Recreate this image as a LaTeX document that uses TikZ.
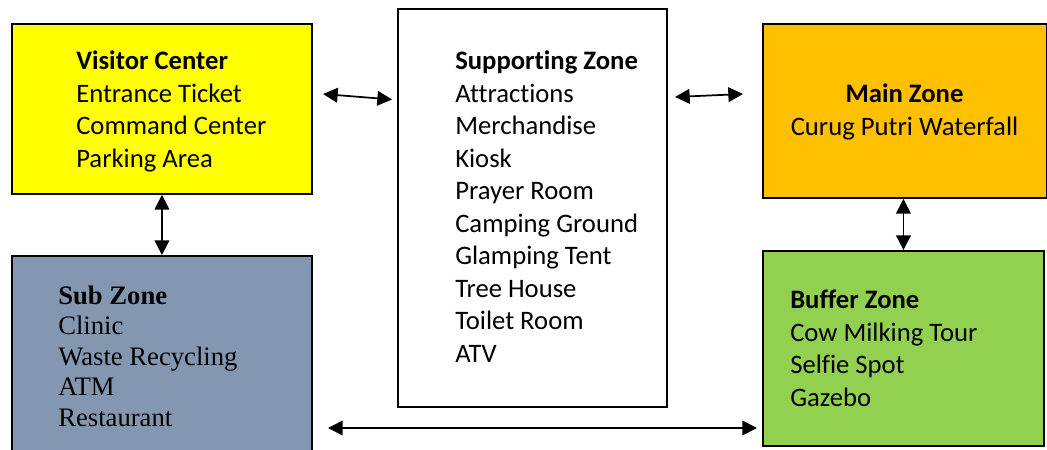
\documentclass[tikz,border=0pt]{standalone}
\usepackage{fontspec}
\setmainfont[Ligatures={NoCommon}]{Carlito}
\newfontfamily\timesfont[Ligatures={NoCommon}]{Liberation Serif}
\usetikzlibrary{arrows.meta}
\definecolor{vcyellow}{HTML}{FFFF00}
\definecolor{subgray}{HTML}{8497B0}
\definecolor{mainorange}{HTML}{FFC000}
\definecolor{bufgreen}{HTML}{92D050}
\begin{document}
\begin{tikzpicture}[x=0.75pt,y=-0.75pt,
  zone/.style={draw=black, line width=1.4pt, rectangle, inner sep=0pt, anchor=north west},
  txt/.style={anchor=base west, inner sep=0pt, font=\fontsize{20}{24}\selectfont},
  ttxt/.style={anchor=base west, inner sep=0pt, font=\timesfont\fontsize{20}{23}\selectfont},
  ctxt/.style={anchor=base, inner sep=0pt, font=\fontsize{20}{24}\selectfont},
  link/.style={line width=1.3pt, {Triangle[length=11pt,width=11pt]}-{Triangle[length=11pt,width=11pt]}}]
\clip (0,0) rectangle (1047,450);
% boxes
\node[zone, fill=vcyellow, minimum width=225pt, minimum height=127.5pt] (vc) at (11,23) {};
\node[zone, fill=subgray, minimum width=225pt, minimum height=165pt] (sub) at (11,255) {};
\node[zone, fill=white, minimum width=201.75pt, minimum height=298.5pt] (sup) at (397,8) {};
\node[zone, fill=mainorange, minimum width=213pt, minimum height=130.5pt] (main) at (762,23) {};
\node[zone, fill=bufgreen, minimum width=210.75pt, minimum height=146.25pt] (buf) at (762,250) {};
% texts
\node[txt] (vc-t) at (76,69.5) {\bfseries Visitor Center};
\foreach \t [count=\i from 1] in {Entrance Ticket, Command Center, Parking Area}
  \node[txt] (vc-\i) at (76,{69.5+32.5*\i}) {\t};
\node[ttxt] (sub-t) at (58,304) {\bfseries Sub Zone};
\foreach \t [count=\i from 1] in {Clinic, Waste Recycling, ATM, Restaurant}
  \node[ttxt] (sub-\i) at (58,{304+30.5*\i}) {\t};
\node[txt] (sup-t) at (455,69.5) {\bfseries Supporting Zone};
\foreach \t [count=\i from 1] in {Attractions, Merchandise, Kiosk, Prayer Room, Camping Ground, Glamping Tent, Tree House, Toilet Room, ATV}
  \node[txt] (sup-\i) at (455,{69.5+32.55*\i}) {\t};
\node[ctxt] (main-t) at (904.5,102.5) {\bfseries Main Zone};
\node[ctxt] (main-1) at (904.5,135) {Curug Putri Waterfall};
\node[txt] (buf-t) at (790,308.5) {\bfseries Buffer Zone};
\foreach \t [count=\i from 1] in {Cow Milking Tour, Selfie Spot, Gazebo}
  \node[txt] (buf-\i) at (790,{308.5+32.5*\i}) {\t};
% connectors
\coordinate (p1) at (323,94);
\coordinate (p2) at (392,99.5);
\coordinate (p3) at (675,97);
\coordinate (p4) at (743,94);
\coordinate (q1) at (328,428);
\coordinate (q2) at (757,428);
\draw[link] (p1) -- (p2);
\draw[link] (p3) -- (p4);
\draw[link] (vc.south) -- (sub.north);
\draw[link] (main.south -| buf.north) -- (buf.north);
\draw[link] (q1) -- (q2);
\end{tikzpicture}
\end{document}
